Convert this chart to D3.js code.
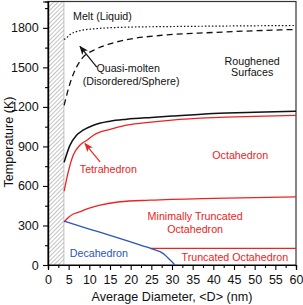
<!DOCTYPE html>
<html><head><meta charset="utf-8">
<script src="https://cdn.jsdelivr.net/npm/d3@7"></script>
<style>body{margin:0;background:#fff}text{font-family:"Liberation Sans",Arial,sans-serif}</style>
</head><body><svg id="c" width="303" height="305"></svg>
<script>
// ---- data ----
const xTicks = [0,5,10,15,20,25,30,35,40,45,50,55,60];
const yTicks = [0,300,600,900,1200,1500,1800];
const meltLine = [[3.9,1712],[4.5,1725],[5.3,1748],[7.7,1778],[11,1792],[19,1805],[30,1810],[40,1813],[60,1818]];
const quasiLine = [[3.9,1212],[5.3,1376],[6.9,1502],[8.5,1578],[11,1629],[15,1679],[19,1710],[27,1742],[40,1765],[60,1788]];
const roughLine = [[3.9,780],[5.3,908],[6.9,985],[8.5,1023],[11,1061],[15,1091],[19,1106],[25,1120],[30,1130],[40,1150],[50,1160],[60,1167]];
const tetraLine = [[3.9,560],[4.9,707],[6.1,833],[7.7,909],[9.4,947],[11,985],[15,1030],[19,1061],[25,1085],[30,1100],[40,1118],[50,1128],[60,1136]];
const octaLine = [[3.9,326],[5,362],[6,385],[7.7,404],[10,432],[12.6,455],[17.4,480],[24.7,492],[40,506],[60,517]];
const decaLine = [[3.9,333],[10,273],[15,225],[20,176],[24.7,128],[27.1,101],[29.1,51],[30.7,0]];
const truncLine = [[24.7,126],[60,126]];
const hatchRange = [0,3.85];

const svg = d3.select("#c");
const x = d3.scaleLinear().domain([0,60]).range([48,296]);
const y = d3.scaleLinear().domain([0,2000]).range([265,1.5]);
const red = "#ee2222", blue = "#2a55b8";

// hatch pattern
const defs = svg.append("defs");
const pat = defs.append("pattern").attr("id","h").attr("patternUnits","userSpaceOnUse")
  .attr("width",3).attr("height",3).attr("patternTransform","rotate(45)");
pat.append("line").attr("x1",0).attr("y1",0).attr("x2",0).attr("y2",3)
  .attr("stroke","#888").attr("stroke-width",1);
svg.append("rect").attr("x",x(hatchRange[0])).attr("y",y(2000))
  .attr("width",x(hatchRange[1])-x(hatchRange[0])).attr("height",y(0)-y(2000))
  .attr("fill","url(#h)");
svg.append("line").attr("x1",x(hatchRange[1])).attr("x2",x(hatchRange[1]))
  .attr("y1",y(2000)).attr("y2",y(0)).attr("stroke","#aaa").attr("stroke-width",0.7);

// frame
svg.append("rect").attr("x",x(0)).attr("y",y(2000)).attr("width",x(60)-x(0))
  .attr("height",y(0)-y(2000)).attr("fill","none").attr("stroke","#333").attr("stroke-width",1.2);

// axes
const fs = 12.5;
const xa = svg.append("g").attr("transform",`translate(0,${y(0)})`)
  .call(d3.axisBottom(x).tickValues(xTicks).tickSize(5).tickFormat(d3.format("d")));
const xm = svg.append("g").attr("transform",`translate(0,${y(0)})`)
  .call(d3.axisBottom(x).tickValues(d3.range(2.5,60,5)).tickSize(3).tickFormat(""));
const ya = svg.append("g").attr("transform",`translate(${x(0)},0)`)
  .call(d3.axisLeft(y).tickValues(yTicks).tickSize(5).tickFormat(d3.format("d")));
const ym = svg.append("g").attr("transform",`translate(${x(0)},0)`)
  .call(d3.axisLeft(y).tickValues(d3.range(150,2000,300)).tickSize(3).tickFormat(""));
[xa,xm,ya,ym].forEach(g=>{g.select(".domain").attr("stroke","#000").attr("stroke-width",1.2);
  g.selectAll(".tick line").attr("stroke","#000").attr("stroke-width",1.1);
  g.selectAll("text").attr("font-size",fs).attr("fill","#111").attr("font-family","Liberation Sans, Arial, sans-serif");});
xa.selectAll("text").attr("dy","0.85em");
ya.selectAll("text").attr("dx","-0.1em");

svg.append("text").attr("x",(x(0)+x(60))/2).attr("y",301).attr("text-anchor","middle")
  .attr("font-size",12.6).attr("fill","#111").text("Average Diameter, <D> (nm)");
svg.append("text").attr("transform",`translate(13,${142}) rotate(-90)`).attr("text-anchor","middle")
  .attr("font-size",12.6).attr("fill","#111").text("Temperature (K)");

// lines
const line = d3.line().x(d=>x(d[0])).y(d=>y(d[1])).curve(d3.curveMonotoneX);
function draw(data,color,w,dash,gen){
  svg.append("path").datum(data).attr("d",(gen||line)).attr("fill","none")
    .attr("stroke",color).attr("stroke-width",w).attr("stroke-dasharray",dash||null);
}
draw(meltLine,"#111",1.2,"1.5,2");
draw(quasiLine,"#111",1.3,"6,4");
draw(roughLine,"#111",1.5);
draw(tetraLine,red,1.3);
draw(octaLine,red,1.3);
draw(truncLine,red,1.3);
draw(decaLine,blue,1.3,null,d3.line().x(d=>x(d[0])).y(d=>y(d[1])).curve(d3.curveMonotoneY));

// arrows
function arrowHead(color,id){
  defs.append("marker").attr("id",id).attr("viewBox","0 0 10 10").attr("refX",9).attr("refY",5)
    .attr("markerWidth",9).attr("markerHeight",9).attr("markerUnits","userSpaceOnUse").attr("orient","auto")
    .append("path").attr("d","M0,1 L10,5 L0,9 L2.5,5 Z").attr("fill",color);
}
arrowHead("#111","ab"); arrowHead(red,"ar");
svg.append("line").attr("x1",x(11.8)).attr("y1",y(1502)).attr("x2",x(7.74)).attr("y2",y(1659))
  .attr("stroke","#111").attr("stroke-width",1.2).attr("marker-end","url(#ab)");
svg.append("line").attr("x1",x(12.6)).attr("y1",y(783)).attr("x2",x(8.95)).attr("y2",y(922))
  .attr("stroke",red).attr("stroke-width",1.2).attr("marker-end","url(#ar)");

// labels
function lab(t,xd,yd,color,anchor){
  svg.append("text").attr("x",x(xd)).attr("y",y(yd)).attr("dy","0.35em")
    .attr("text-anchor",anchor||"middle").attr("font-size",10.7).attr("fill",color).text(t);
}
lab("Melt (Liquid)",6.05,1886,"#111","start");
lab("Quasi-molten",19.4,1492,"#111");
lab("(Disordered/Sphere)",20.1,1394,"#111");
lab("Roughened",49.4,1545,"#111");
lab("Surfaces",49.4,1462,"#111");
lab("Tetrahedron",14.6,727,red);
lab("Octahedron",46.5,833,red);
lab("Minimally Truncated",35.6,371,red);
lab("Octahedron",35.6,273,red);
lab("Decahedron",12.3,91,blue);
lab("Truncated Octahedron",45.2,61,red);
</script></body></html>
